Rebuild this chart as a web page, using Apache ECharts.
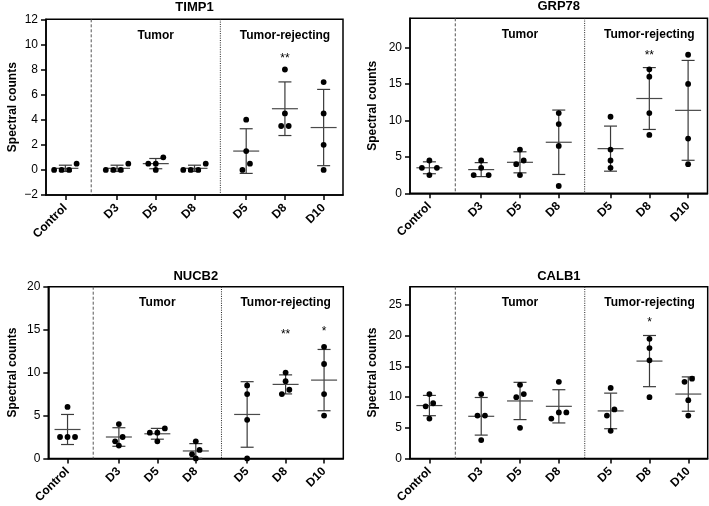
<!DOCTYPE html>
<html><head><meta charset="utf-8">
<script src="https://cdn.jsdelivr.net/npm/echarts@6/dist/echarts.min.js"></script>
<style>html,body{margin:0;padding:0;background:#fff}#c{width:709px;height:506px}</style>
</head><body><div id="c"></div>
<script>
// ---------- data ----------
const categories = ['Control', 'D3', 'D5', 'D8', 'D5', 'D8', 'D10'];
const groupOfCategory = [0, 1, 1, 1, 2, 2, 2];
const groupLabels = ['Tumor', 'Tumor-rejecting'];
const yAxisName = 'Spectral counts';

const timp1Values = [[0,0,0,0.5],[0,0,0,0.5],[1,0.5,0.5,0],[0,0,0,0.5],[4,1.5,0.5,0],[8,4.5,3.5,3.5],[7,4.5,2,0]];
const grp78Values = [[4.5,3.5,3.5,2.5],[4.5,3.5,2.5,2.5],[6,4.5,4,2.5],[11,9.5,6.5,1],[10.5,6,4.5,3.5],[17,16,11,8],[19,15,7.5,4]];
const nucb2Values = [[6,2.5,2.5,2.5],[4,2.5,2,1.5],[3.5,3,3,2],[2,1,0.5,0],[8.5,7.5,4.5,0],[10,9,8,7.5],[13,11,7.5,5]];
const calb1Values = [[10.5,9,8.5,6.5],[10.5,7,7,3],[12,10.5,10,5],[12.5,7.5,7.5,6.5],[11.5,8,7,4.5],[19.5,18,16,10],[13,12.5,9.5,7]];

// significance marks: [category index, text, y value]
const timp1Stars = [[5, '**', 9.1]];
const grp78Stars = [[5, '**', 19.2]];
const nucb2Stars = [[5, '**', 14.7], [6, '*', 15]];
const calb1Stars = [[5, '*', 22.5]];

const timp1Ticks = [-2, 0, 2, 4, 6, 8, 10, 12];
const grp78Ticks = [0, 5, 10, 15, 20];
const nucb2Ticks = [0, 5, 10, 15, 20];
const calb1Ticks = [0, 5, 10, 15, 20, 25];

// ---------- layout ----------
const FONT = '"Liberation Sans", Arial, Helvetica, sans-serif';
const GAP = 0.335;
const catPos = categories.map((c, i) => i + groupOfCategory[i] * GAP);
const sepPos = [(catPos[0] + catPos[1]) / 2, (catPos[3] + catPos[4]) / 2];
const groupCenter = [catPos[2], catPos[5]];

const panels = [
  {title: 'TIMP1', values: timp1Values, stars: timp1Stars, ticks: timp1Ticks, yMin: -2, yMax: 12,
   grid: {left: 46, top: 19.3, width: 297, height: 175.7}, nameGap: 27, titleY: 7},
  {title: 'GRP78', values: grp78Values, stars: grp78Stars, ticks: grp78Ticks, yMin: 0, yMax: 24,
   grid: {left: 410, top: 18.3, width: 297.5, height: 175}, nameGap: 31, titleY: 6.5},
  {title: 'NUCB2', values: nucb2Values, stars: nucb2Stars, ticks: nucb2Ticks, yMin: 0, yMax: 20,
   grid: {left: 48.3, top: 286.7, width: 295, height: 175}, nameGap: 29.5, titleY: 276},
  {title: 'CALB1', values: calb1Values, stars: calb1Stars, ticks: calb1Ticks, yMin: 0, yMax: 28,
   grid: {left: 410, top: 286.7, width: 297.7, height: 175}, nameGap: 31, titleY: 276}
];

function mean(a) { return a.reduce((s, v) => s + v, 0) / a.length; }
function sd(a) { const m = mean(a); return Math.sqrt(a.reduce((s, v) => s + (v - m) * (v - m), 0) / (a.length - 1)); }

// scatter-dot spreading (rows of near-equal values laid side by side)
function spread(vals, pxPerUnit) {
  const S = 7.5, ROW = 6.5, PUSH = 8.5;
  const items = vals.map((v, i) => ({v, i})).sort((a, b) => b.v - a.v);
  const rows = [];
  items.forEach(it => {
    const r = rows[rows.length - 1];
    if (r && (r[0].v - it.v) * pxPerUnit < ROW) r.push(it); else rows.push([it]);
  });
  const off = new Array(vals.length).fill(0);
  rows.forEach((r, ri) => {
    const n = r.length;
    const asc = r.slice().reverse();
    let push = false;
    const allSame = r.every(it => it.v === r[0].v);
    if (n % 2 === 0 && allSame) {
      [rows[ri - 1], rows[ri + 1]].forEach(nr => {
        if (!nr || nr.length % 2 === 0) return;
        const c = nr.slice().reverse()[(nr.length - 1) / 2];
        const dy = Math.abs(c.v - r[0].v) * pxPerUnit;
        if (Math.sqrt(dy * dy + (S / 2) * (S / 2)) < PUSH) push = true;
      });
    }
    asc.forEach((it, k) => {
      let o;
      if (push) o = (k < n / 2 ? (k - n / 2) : (k - n / 2 + 1)) * S;
      else o = (k - (n - 1) / 2) * S;
      off[it.i] = o;
    });
  });
  return off;
}

function labelFor(v) {
  let best = 0, bd = 1e9;
  catPos.forEach((p, i) => { const d = Math.abs(p - v); if (d < bd) { bd = d; best = i; } });
  return categories[best];
}
function tickLabel(v) { return v < 0 ? '\u2212' + (-v) : String(v); }

const grids = [], xAxes = [], yAxes = [], series = [], graphics = [];
panels.forEach((p, gi) => {
  grids.push(Object.assign({show: true, borderColor: '#000', borderWidth: 1.5, backgroundColor: 'transparent', containLabel: false}, p.grid));
  xAxes.push({
    type: 'value', gridIndex: gi, min: -0.5, max: catPos[catPos.length - 1] + 0.5,
    splitLine: {show: false},
    axisLine: {show: true, onZero: false, lineStyle: {color: '#000', width: 1.5}},
    axisTick: {show: true, customValues: catPos, length: 5, lineStyle: {color: '#000', width: 1.5}},
    axisLabel: {customValues: catPos, rotate: 45, formatter: labelFor, fontWeight: 'bold', fontSize: 12,
                color: '#000', margin: 11, fontFamily: FONT}
  });
  yAxes.push({
    type: 'value', gridIndex: gi, min: p.yMin, max: p.yMax,
    splitLine: {show: false},
    axisLine: {show: true, onZero: false, lineStyle: {color: '#000', width: 1.5}},
    axisTick: {show: true, customValues: p.ticks, length: 5, lineStyle: {color: '#000', width: 1.5}},
    axisLabel: {customValues: p.ticks, formatter: tickLabel, fontSize: 12, color: '#000', margin: 8, fontFamily: FONT},
    name: yAxisName, nameLocation: 'middle', nameGap: p.nameGap,
    nameTextStyle: {fontWeight: 'bold', fontSize: 12, color: '#000', fontFamily: FONT}
  });

  const pxPerUnit = p.grid.height / (p.yMax - p.yMin);

  // separators
  series.push({
    type: 'custom', xAxisIndex: gi, yAxisIndex: gi, silent: true, z: 1,
    data: sepPos.map((x, k) => [x, p.yMin, k]),
    renderItem: (params, api) => {
      const x = api.value(0), k = api.value(2);
      const a = api.coord([x, p.yMax]), b = api.coord([x, p.yMin]);
      return {type: 'line', shape: {x1: a[0], y1: a[1], x2: b[0], y2: b[1]},
              style: {stroke: k === 0 ? '#555' : '#222', lineWidth: 1, lineDash: k === 0 ? [3, 2] : [1, 1.3]}};
    }
  });

  // mean +- SD
  series.push({
    type: 'custom', xAxisIndex: gi, yAxisIndex: gi, silent: true, z: 2,
    data: p.values.map((vs, i) => [catPos[i], mean(vs), sd(vs)]),
    renderItem: (params, api) => {
      const x = api.value(0), m = api.value(1), s = api.value(2);
      const t = api.coord([x, m + s]), b = api.coord([x, m - s]), c = api.coord([x, m]);
      const st = {stroke: '#3a3a3a', lineWidth: 1.2};
      return {type: 'group', children: [
        {type: 'line', shape: {x1: t[0], y1: t[1], x2: b[0], y2: b[1]}, style: st},
        {type: 'line', shape: {x1: t[0] - 6.5, y1: t[1], x2: t[0] + 6.5, y2: t[1]}, style: st},
        {type: 'line', shape: {x1: b[0] - 6.5, y1: b[1], x2: b[0] + 6.5, y2: b[1]}, style: st},
        {type: 'line', shape: {x1: c[0] - 13, y1: c[1], x2: c[0] + 13, y2: c[1]}, style: {stroke: '#4a4a4a', lineWidth: 1.2}}
      ]};
    }
  });

  // dots
  const dotData = [];
  p.values.forEach((vs, i) => {
    const off = spread(vs, pxPerUnit);
    vs.forEach((v, j) => dotData.push([catPos[i], v, off[j]]));
  });
  series.push({
    type: 'custom', xAxisIndex: gi, yAxisIndex: gi, silent: true, z: 3,
    data: dotData,
    renderItem: (params, api) => {
      const c = api.coord([api.value(0), api.value(1)]);
      return {type: 'circle', shape: {cx: c[0] + api.value(2), cy: c[1], r: 2.9}, style: {fill: '#000'}};
    }
  });

  // significance marks
  series.push({
    type: 'custom', xAxisIndex: gi, yAxisIndex: gi, silent: true, z: 4,
    data: p.stars.map(s => [catPos[s[0]], s[2]]),
    renderItem: (params, api) => {
      const c = api.coord([api.value(0), api.value(1)]);
      return {type: 'text', x: c[0], y: c[1] + 2.5,
              style: {text: p.stars[params.dataIndex][1], fill: '#000', fontSize: 12, fontFamily: FONT,
                      align: 'center', verticalAlign: 'middle'}};
    }
  });

  // group labels
  series.push({
    type: 'custom', xAxisIndex: gi, yAxisIndex: gi, silent: true, z: 4,
    data: groupCenter.map(x => [x, p.yMax]),
    renderItem: (params, api) => {
      const c = api.coord([api.value(0), api.value(1)]);
      return {type: 'text', x: c[0], y: c[1] + 16,
              style: {text: groupLabels[params.dataIndex], fill: '#000', fontSize: 12, fontWeight: 'bold',
                      fontFamily: FONT, align: 'center', verticalAlign: 'middle'}};
    }
  });

  graphics.push({
    type: 'text', x: p.grid.left + p.grid.width / 2, y: p.titleY,
    style: {text: p.title, fill: '#000', fontSize: 13, fontWeight: 'bold', fontFamily: FONT,
            align: 'center', verticalAlign: 'middle'}
  });
});

const chart = echarts.init(document.getElementById('c'), null, {renderer: 'canvas'});
chart.setOption({
  animation: false,
  backgroundColor: '#fff',
  textStyle: {fontFamily: FONT},
  grid: grids, xAxis: xAxes, yAxis: yAxes, series: series, graphic: graphics
});
</script>
</body></html>
